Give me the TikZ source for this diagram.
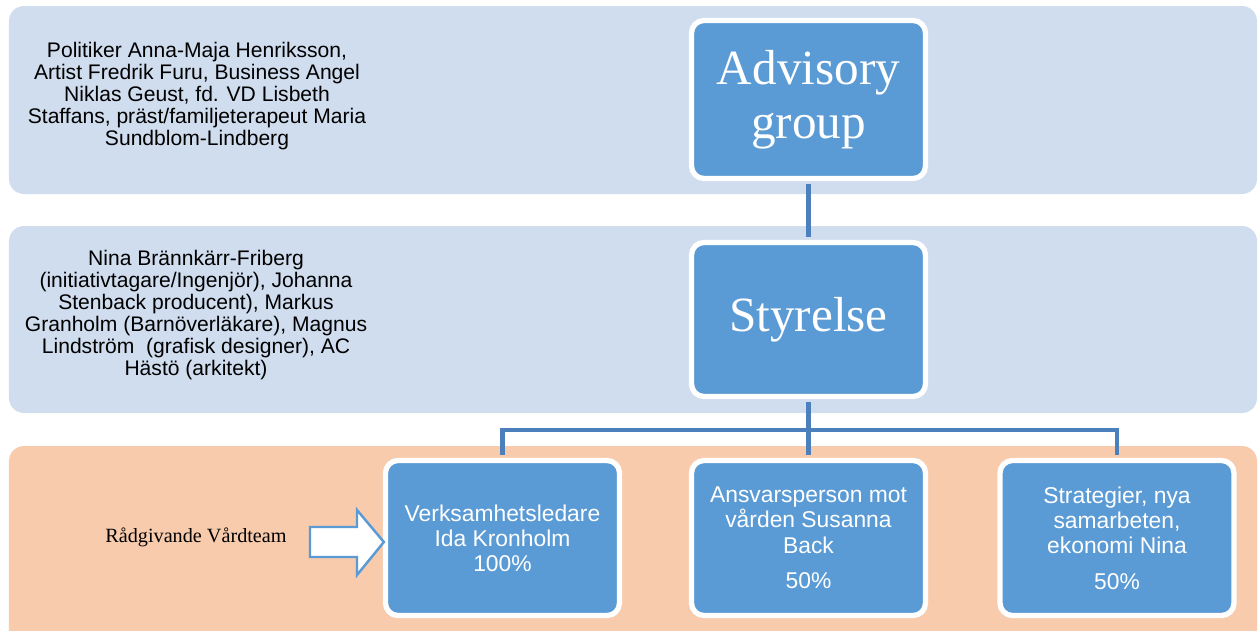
\documentclass[tikz,border=0pt]{standalone}
\usepackage{fontspec}
\setmainfont{Liberation Serif}
\newfontfamily\arialfont{Liberation Sans}
\usetikzlibrary{calc}
\definecolor{bandblue}{HTML}{D0DDEE}
\definecolor{bandpeach}{HTML}{F7CBAC}
\definecolor{boxblue}{HTML}{5B9BD5}
\definecolor{linjeblue}{HTML}{4C80BC}
\tikzset{
  band/.style={rounded corners=0.3cm},
  orgbox/.style={fill=boxblue, draw=white, line width=3pt, rounded corners=0.25cm,
    minimum width=4.68cm, minimum height=3.1cm, inner sep=2pt, align=center, text=white},
  bigtext/.style={font=\fontsize{28}{31}\selectfont},
  smalltext/.style={font=\arialfont\fontsize{13}{14.3}\selectfont},
  listtext/.style={font=\arialfont\fontsize{12}{12.5}\selectfont, align=center},
  conn/.style={draw=linjeblue, line width=2.6pt, shorten <=1.5pt, shorten >=1.5pt}
}

\begin{document}
\begin{tikzpicture}
			%%%%% START %%%%%
			\useasboundingbox (0, 0) rectangle (25.2, 12.6);
			\clip (0, 0) rectangle (25.2, 12.6);

			\fill[band, bandblue] (0.18, 8.72) rectangle (25.14, 12.48);
			\fill[band, bandblue] (0.18, 4.34) rectangle (25.14, 8.08);
			\fill[band, bandpeach] (0.18, -0.4) rectangle (25.14, 3.68);

			\node[listtext] (radgivare) at (3.94, 10.68) {Politiker Anna-Maja Henriksson,\\Artist Fredrik Furu, Business Angel\\Niklas Geust, fd. VD Lisbeth\\Staffans, präst/familjeterapeut Maria\\Sundblom-Lindberg};
			\node[listtext] (ledamot) at (3.92, 6.3) {Nina Brännkärr-Friberg\\(initiativtagare/Ingenjör), Johanna\\Stenback producent), Markus\\Granholm (Barnöverläkare), Magnus\\Lindström\ \ (grafisk designer), AC\\Hästö (arkitekt)};

			\node[orgbox, bigtext, minimum height=3.16cm] (advisory) at (16.17, 10.61) {Advisory\\group};
			\node[orgbox, bigtext, minimum height=3.08cm] (styrelse) at (16.17, 6.21) {Styrelse};

			\node[orgbox, smalltext] (ledare) at (10.05, 1.84) {Verksamhetsledare\\Ida Kronholm\\100\%};
			\node[orgbox, smalltext] (vard) at (16.17, 1.84) {Ansvarsperson mot\\vården Susanna\\Back\\[6pt]50\%};
			\node[orgbox, smalltext] (strategi) at (22.34, 1.84) {Strategier, nya\\samarbeten,\\ekonomi Nina\\[6pt]50\%};

			\coordinate (gren) at (16.17, 4.0);
			\draw[conn] (advisory.south) -- (styrelse.north);
			\draw[conn, shorten >=0pt] (styrelse.south) -- (gren);
			\draw[conn, shorten <=0pt] (gren) -| (ledare.north);
			\draw[conn, shorten <=0pt] (gren) -| (strategi.north);
			\draw[conn, shorten <=0pt] (gren) -- (vard.north);

			\node[font=\fontsize{11.5}{13}\selectfont] (vardteam) at (3.92, 1.86) {Rådgivande Vårdteam};
			\draw[line width=1.4pt, draw=boxblue, fill=white, line join=miter]
			  (6.2, 2.06) -- (7.14, 2.06) -- (7.14, 2.4) -- ($(ledare.west)+(0.02,-0.08)$) -- (7.14, 1.1) -- (7.14, 1.46) -- (6.2, 1.46) -- cycle;
			%%%%% END %%%%%
\end{tikzpicture}
\end{document}
